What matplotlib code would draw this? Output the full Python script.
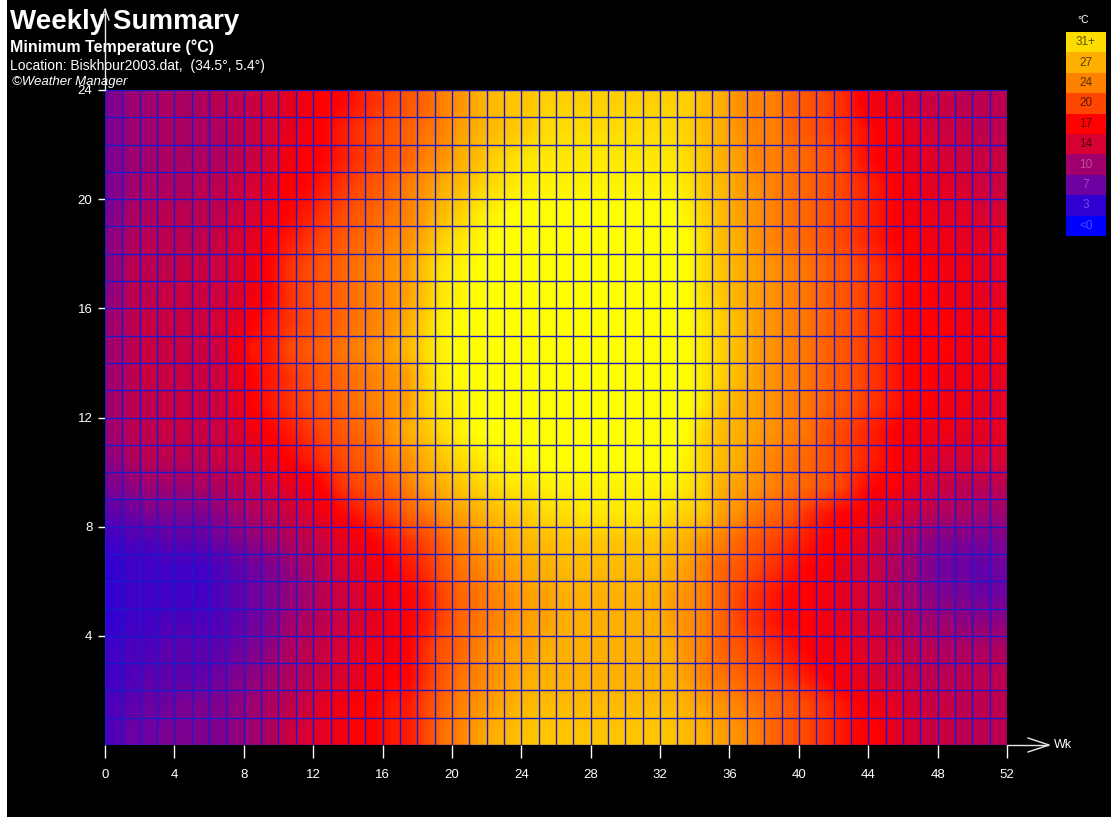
import numpy as np
import matplotlib
matplotlib.use("Agg")
import matplotlib.pyplot as plt
from matplotlib.colors import LinearSegmentedColormap, Normalize
from matplotlib.lines import Line2D
from matplotlib.patches import Rectangle

plt.rcParams['font.family'] = ['Liberation Sans', 'DejaVu Sans']

# minimum temperature (deg C), one list per hour row, weeks 0..51
hour_00 = [5,7,7,8,8,8,8,9,10,11,13,14,15,16,17,17,18,18,20,23,24,26,27,28,29,29,
           29,29,29,29,29,29,29,28,27,26,25,24,22,21,20,19,18,17,17,15,14,13,13,12,12,12]
hour_01 = [5,6,7,7,8,8,8,9,10,11,12,13,15,16,17,17,18,18,20,22,24,25,26,27,28,28,
           28,28,28,28,28,28,28,27,26,25,24,23,22,21,20,19,18,17,16,15,14,13,13,12,12,12]
hour_02 = [4,5,6,6,6,6,7,8,9,10,11,12,13,14,15,16,17,17,19,21,23,24,25,26,27,27,
           27,27,27,27,27,27,27,26,24,23,22,21,20,19,18,17,16,15,14,13,13,12,12,12,12,12]
hour_03 = [4,5,5,6,6,6,6,7,8,9,11,12,13,14,15,16,16,17,19,21,22,24,25,26,26,27,
           27,27,27,27,27,27,27,25,24,22,21,20,19,18,17,16,16,15,14,13,12,12,11,11,11,11]
hour_04 = [3,4,4,5,5,5,5,6,7,8,10,11,12,13,14,15,16,17,18,20,22,23,24,25,26,26,
           27,27,27,27,27,27,26,25,24,22,20,19,18,17,17,16,15,14,13,12,11,10,10,9,9,9]
hour_05 = [3,4,4,4,4,4,5,6,7,8,9,10,12,13,14,15,16,17,18,20,22,23,24,25,26,26,
           27,27,27,27,27,27,26,25,24,22,20,19,18,17,17,16,15,14,13,11,10,9,8,8,7,7]
hour_06 = [3,4,4,4,4,4,5,6,7,8,9,11,12,14,15,16,17,18,19,21,23,24,25,26,27,27,
           28,28,28,28,28,28,27,26,24,22,21,20,19,18,17,17,15,14,13,11,10,8,7,7,6,7]
hour_07 = [4,5,5,6,6,6,7,8,9,10,11,12,13,15,16,17,18,19,20,22,24,25,26,27,28,28,
           29,29,29,29,29,29,28,27,25,24,22,21,20,19,18,17,17,15,13,12,10,9,8,8,8,8]
hour_08 = [6,7,8,8,8,8,9,10,11,12,13,14,16,17,18,19,20,22,23,25,26,27,28,29,30,31,
           31,32,32,32,32,32,31,30,29,26,25,23,22,21,19,18,17,17,15,14,13,12,11,11,10,10]
hour_09 = [8,9,10,10,10,11,11,12,13,14,15,16,17,19,20,21,22,24,26,27,29,30,31,32,32,33,
           33,33,33,33,33,33,33,32,30,27,26,25,24,23,22,21,20,18,17,17,15,14,13,12,12,12]
hour_10 = [9,11,12,12,12,12,13,13,14,16,17,18,19,20,21,22,24,25,27,29,31,32,33,33,34,34,
           34,34,34,34,34,34,34,33,30,28,27,25,24,23,22,21,20,19,18,17,16,15,14,14,14,14]
hour_11 = [10,12,12,13,13,13,13,14,16,17,18,19,20,21,22,23,25,27,29,31,33,34,34,34,34,34,
           34,34,34,34,34,34,34,34,30,28,27,26,25,24,23,21,20,19,18,17,16,16,16,15,15,15]
hour_12 = [10,12,12,13,13,13,13,15,17,18,19,20,21,22,23,24,25,26,30,32,33,34,34,34,34,34,
           34,34,34,34,34,34,34,34,32,29,27,26,25,24,23,22,21,20,19,18,17,17,16,16,15,15]
hour_13 = [10,12,13,13,13,13,13,15,17,18,19,20,21,22,23,24,25,26,30,33,34,34,34,34,34,34,
           34,34,34,34,34,34,34,34,32,30,28,26,25,24,23,22,21,20,19,18,17,17,16,16,16,15]
hour_14 = [10,12,13,13,13,13,13,16,18,18,20,21,22,23,24,25,26,28,31,33,34,34,34,34,34,34,
           34,34,34,34,34,34,34,34,32,30,28,26,25,24,23,22,21,20,19,18,17,17,17,16,16,16]
hour_15 = [10,12,13,13,13,13,14,15,17,18,19,20,21,22,23,24,25,27,30,33,34,34,34,34,34,34,
           34,34,34,34,34,34,34,34,32,30,28,26,25,24,23,22,21,20,19,18,17,17,17,16,16,16]
hour_16 = [9,12,12,13,13,13,13,14,16,17,19,20,21,22,23,24,25,26,29,32,33,34,34,34,34,34,
           34,34,34,34,34,34,34,34,31,29,27,26,25,24,23,22,21,20,19,18,17,17,16,16,15,15]
hour_17 = [9,12,12,12,13,13,13,14,16,17,19,20,21,22,23,24,25,26,29,32,33,34,34,34,34,34,
           34,34,34,34,34,34,34,34,31,29,27,26,25,24,23,22,21,20,19,18,17,17,16,16,15,15]
hour_18 = [9,11,12,12,12,12,13,14,15,17,18,19,20,21,22,23,24,25,27,30,32,33,34,34,34,34,
           34,34,34,34,34,34,34,34,31,28,27,25,24,23,22,21,20,19,18,17,17,16,16,15,15,15]
hour_19 = [8,11,11,12,12,12,12,13,14,16,17,18,19,20,21,22,23,24,26,28,30,32,33,34,34,34,
           34,34,34,34,34,34,34,33,30,28,26,25,24,23,22,21,20,19,18,17,16,16,15,15,14,14]
hour_20 = [8,10,11,11,11,12,12,13,14,15,17,17,18,19,20,21,22,24,25,27,28,30,31,32,33,33,
           33,33,33,33,33,33,33,32,29,28,26,25,24,23,22,21,20,19,18,17,16,15,15,14,13,13]
hour_21 = [8,10,10,11,11,11,11,12,13,14,16,17,17,18,19,20,21,22,24,25,27,28,30,31,32,32,
           32,32,32,32,32,32,32,31,29,27,26,24,24,23,22,21,20,18,17,16,15,15,14,13,13,13]
hour_22 = [8,10,10,11,11,11,11,12,13,14,15,16,17,18,19,20,21,22,23,24,26,27,28,29,30,31,
           31,31,31,31,31,31,31,30,28,27,25,24,24,22,21,20,19,18,17,16,15,14,13,13,12,12]
hour_23 = [8,10,10,11,11,11,12,12,13,14,15,16,17,17,18,19,20,21,22,24,25,27,28,29,29,30,
           30,30,30,30,30,30,30,30,28,27,25,24,24,22,21,20,19,17,16,15,14,13,13,12,12,12]

x_ticks = [0, 4, 8, 12, 16, 20, 24, 28, 32, 36, 40, 44, 48, 52]
y_ticks = [4, 8, 12, 16, 20, 24]

legend_labels = ['31+', '27', '24', '20', '17', '14', '10', '7', '3', '<0']
legend_values = [31, 27, 24, 20, 17, 14, 10, 7, 3, 0]

grid = np.array([hour_00, hour_01, hour_02, hour_03, hour_04, hour_05, hour_06, hour_07,
                 hour_08, hour_09, hour_10, hour_11, hour_12, hour_13, hour_14, hour_15,
                 hour_16, hour_17, hour_18, hour_19, hour_20, hour_21, hour_22, hour_23], dtype=float)

# colour scale: blue -> purple -> crimson -> red -> orange -> yellow
nodes = [(0, (0, 0, 255)), (3, (50, 0, 210)), (7, (110, 0, 160)), (10, (160, 0, 110)),
         (14, (215, 0, 50)), (17, (255, 0, 0)), (20, (255, 70, 0)), (24, (255, 130, 0)),
         (27, (255, 175, 0)), (31, (255, 220, 0)), (34, (255, 255, 0))]
cmap = LinearSegmentedColormap.from_list(
    'wm', [(v / 34, tuple(c / 255 for c in rgb)) for v, rgb in nodes])
norm = Normalize(vmin=0, vmax=34)

W, H = 1111, 817


def fx(px):
    return px / W


def fy(py):
    return 1 - py / H


fig = plt.figure(figsize=(W / 100, H / 100), dpi=100, facecolor='white')
fig.add_artist(Rectangle((fx(7), 0), 1, 1, transform=fig.transFigure,
                         facecolor='black', edgecolor='none', zorder=0))

ax = fig.add_axes([fx(105), fy(745), fx(1007) - fx(105), fy(90) - fy(745)])
ax.set_facecolor('black')
ax.imshow(grid, cmap=cmap, norm=norm, origin='lower', extent=[0, 52, 0, 24],
          aspect='auto', interpolation='bilinear')
ax.vlines(np.arange(53), 0, 24, color='#1a1ac8', lw=1.0)
ax.hlines(np.arange(25), 0, 52, color='#1a1ac8', lw=1.0)
ax.set_xlim(0, 52)
ax.set_ylim(0, 24)
for s in ax.spines.values():
    s.set_visible(False)
ax.set_xticks(x_ticks)
ax.set_yticks(y_ticks)
ax.tick_params(axis='x', colors='white', length=9, width=1, pad=8, labelsize=9.5)
ax.tick_params(axis='y', colors='white', length=5, width=1, pad=4, labelsize=9.5)

# axis arrows
white = '#e8e8e8'
fig.add_artist(Line2D([fx(105), fx(105)], [fy(90), fy(9)], color=white, lw=1))
fig.add_artist(Line2D([fx(101), fx(105), fx(109)], [fy(20), fy(9), fy(20)], color=white, lw=1))
fig.add_artist(Line2D([fx(1007), fx(1048)], [fy(745), fy(745)], color=white, lw=1))
fig.add_artist(Line2D([fx(1028), fx(1049), fx(1028)], [fy(738), fy(745), fy(752)], color=white, lw=1))
fig.text(fx(1054), fy(745), 'Wk', color='white', fontsize=9, va='center', ha='left')

# titles
fig.text(fx(10), fy(22), 'Weekly Summary', color='white', fontsize=20,
         fontweight='bold', va='center', ha='left')
fig.text(fx(10), fy(47), 'Minimum Temperature (°C)', color='white', fontsize=11.5,
         fontweight='bold', va='center', ha='left')
fig.text(fx(10), fy(66), 'Location: Biskhour2003.dat,  (34.5°, 5.4°)', color='white',
         fontsize=10, va='center', ha='left')
fig.text(fx(12), fy(82), '©Weather Manager', color='white', fontsize=9.5,
         style='italic', va='center', ha='left')

# legend boxes
cax = fig.add_axes([fx(1066), fy(236), fx(1106) - fx(1066), fy(32) - fy(236)])
cax.imshow(np.array(legend_values, dtype=float)[:, None], cmap=cmap, norm=norm,
           aspect='auto', extent=[0, 1, 0, len(legend_values)], interpolation='nearest')
cax.set_xlim(0, 1)
cax.set_ylim(0, len(legend_values))
cax.axis('off')
for i, (lab, val) in enumerate(zip(legend_labels, legend_values)):
    c = np.array(cmap(norm(val))[:3])
    tc = c * 0.35 if val >= 14 else c + (1 - c) * 0.3
    cax.text(0.5, len(legend_values) - 0.5 - i, lab, color=tc, fontsize=8.5,
             ha='center', va='center')
fig.text(fx(1083), fy(20), '°C', color='white', fontsize=7.5, ha='center', va='center')

fig.savefig('out.png', dpi=100, facecolor=fig.get_facecolor())
